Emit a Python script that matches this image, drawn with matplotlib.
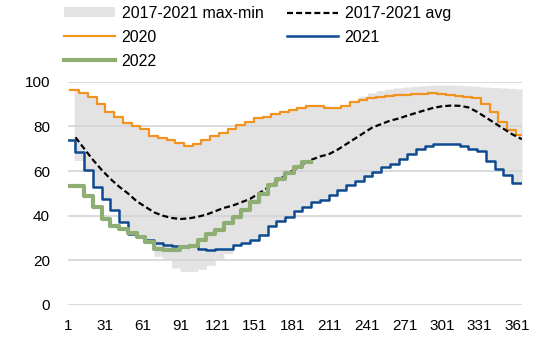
import numpy as np
import matplotlib
matplotlib.use("Agg")
import matplotlib.pyplot as plt

plt.rcParams['font.family'] = ['Liberation Sans', 'DejaVu Sans']

# ---------------- data ----------------
# weekly values (step series)
y2020 = [96.5, 94.8, 93.0, 89.9, 86.3, 84.1, 81.4, 80.1, 78.6, 75.9, 75.0, 74.0, 72.5,
         71.4, 72.2, 73.7, 75.5, 77.1, 78.9, 80.4, 81.8, 83.6, 84.4, 85.6, 86.6, 87.4,
         88.3, 89.3, 89.3, 88.3, 88.3, 89.3, 90.8, 92.0, 92.6, 93.0, 93.5, 94.0, 94.2,
         94.5, 94.5, 94.8, 94.5, 94.2, 93.8, 93.0, 92.6, 90.0, 86.3, 81.8, 78.5, 76.2]
y2021 = [73.7, 68.5, 60.3, 52.8, 47.4, 42.5, 37.3, 31.8, 30.6, 29.2, 27.9, 26.8, 26.2,
         26.5, 26.5, 25.3, 24.8, 25.3, 25.3, 26.8, 27.8, 29.3, 31.2, 35.2, 37.4, 39.4,
         41.9, 44.0, 46.1, 47.0, 49.1, 51.6, 53.7, 55.5, 57.6, 59.5, 61.7, 63.2, 65.5,
         67.7, 70.0, 71.0, 71.9, 71.9, 71.9, 71.0, 70.0, 68.9, 64.7, 61.0, 58.0, 54.6, 54.6]
y2022 = [53.1, 53.1, 48.9, 43.9, 38.7, 35.5, 34.0, 32.2, 30.5, 28.3, 25.3, 24.8, 24.8,
         25.9, 26.5, 29.0, 31.6, 33.6, 36.5, 39.2, 42.5, 46.1, 49.9, 53.6, 56.5, 59.2,
         61.7, 64.0]
band_max = [96.5, 94.8, 93.0, 89.9, 86.3, 84.1, 81.4, 80.1, 78.6, 75.9, 75.0, 74.0, 72.5,
            71.4, 72.2, 73.7, 75.5, 77.1, 78.9, 80.4, 81.8, 83.6, 84.4, 85.6, 86.6, 87.4,
            88.3, 89.3, 89.3, 88.3, 88.3, 89.3, 90.8, 93.5, 95.0, 96.0, 96.7, 97.2, 97.6,
            97.9, 98.2, 98.4, 98.5, 98.5, 98.4, 98.2, 97.9, 97.6, 97.4, 97.2, 97.0, 96.8]
band_min = [64.7, 64.7, 60.3, 52.8, 47.4, 42.5, 37.3, 31.8, 30.6, 29.2, 21.8, 20.5, 16.6,
            15.0, 15.0, 16.0, 17.8, 20.7, 23.0, 26.8, 27.8, 29.3, 31.2, 35.2, 37.4, 39.4,
            41.9, 44.0, 46.1, 47.0, 49.1, 51.6, 53.7, 55.5, 57.6, 59.5, 61.7, 63.2, 65.5,
            67.7, 70.0, 71.0, 71.9, 71.9, 71.9, 71.0, 70.0, 68.9, 64.7, 61.0, 58.0, 54.6, 54.6]
avg_days = list(range(7, 365, 7))
avg_vals = [75.1, 70, 65, 60.5, 56.5, 53, 50, 46.5, 44, 41.5, 40, 39, 38.5, 38.8, 39.5,
            40.5, 42, 43.5, 44.5, 46, 47.5, 50, 52.5, 55, 58, 60.5, 63, 65, 66.5, 67.5,
            69.5, 72, 74.5, 77, 79.5, 81, 82.5, 83.5, 84.8, 86, 87.2, 88.3, 89, 89.3,
            89.2, 88.5, 86.5, 84, 81.5, 79, 76.5, 74.5]
xticks = [1, 31, 61, 91, 121, 151, 181, 211, 241, 271, 301, 331, 361]

# week start days
x2020 = np.array([3 + 7 * k for k in range(len(y2020))])
x2021 = np.array([max(1, 7 * k) for k in range(len(y2021))])
x2022 = np.array([max(1, 7 * k) for k in range(len(y2022))])

def ext(x, y, end):
    return np.append(x, end), np.append(y, y[-1])

# ---------------- figure ----------------
fig = plt.figure(figsize=(5.5, 3.51), dpi=100)
ax = fig.add_axes([68/550, 1-305/351, (522-68)/550, (305-81.7)/351])

# band expanded to daily steps
days = np.arange(6, 366)
up = np.array(band_max)[np.clip(np.searchsorted(x2020, days, side='right') - 1, 0, None)]
lo = np.array(band_min)[np.clip(np.searchsorted(x2021, days, side='right') - 1, 0, None)]
band = ax.fill_between(days, lo, up, step='post', color='#E3E3E3', linewidth=0, zorder=1,
                       label='2017-2021 max-min')

xa, ya = ext(x2020, y2020, 365)
l20, = ax.step(xa, ya, where='post', color='#F2921F', lw=1.6, zorder=2, label='2020')
xb, yb = ext(x2021, y2021, 365)
l21, = ax.step(xb, yb, where='post', color='#0E4A90', lw=1.8, zorder=2.1, label='2021')
lavg, = ax.plot(np.append(avg_days, 365), np.append(avg_vals, 74.4), color='black', lw=1.6,
                dashes=(2.7, 1.4), zorder=2.2, label='2017-2021 avg')
xc, yc = ext(x2022, y2022, 196)
l22, = ax.step(xc, yc, where='post', color='#8FAE74', lw=3.0, zorder=2.3, label='2022')

ax.set_xlim(1, 365)
ax.set_ylim(0, 100)
ax.set_xticks(xticks)
ax.set_yticks([0, 20, 40, 60, 80, 100])
ax.set_axisbelow('line')
ax.grid(axis='y', color='#D4D4D4', lw=1.2, zorder=1.5)
ax.grid(axis='x', visible=False)
for s in ax.spines.values():
    s.set_visible(False)
ax.tick_params(axis='both', length=0, labelsize=11, colors='black')
ax.tick_params(axis='y', pad=13)
ax.tick_params(axis='x', pad=10)

handles = [band, l20, l22, lavg, l21]
labels = [h.get_label() for h in handles]
fig.legend(handles, labels, ncol=2, loc='upper left',
           bbox_to_anchor=(64/550, 1-6/351), frameon=False, fontsize=11.5,
           handlelength=3.2, handletextpad=0.4, columnspacing=1.5,
           labelspacing=0.55, borderpad=0, borderaxespad=0, handleheight=0.6)

fig.savefig('out.png', dpi=100)
